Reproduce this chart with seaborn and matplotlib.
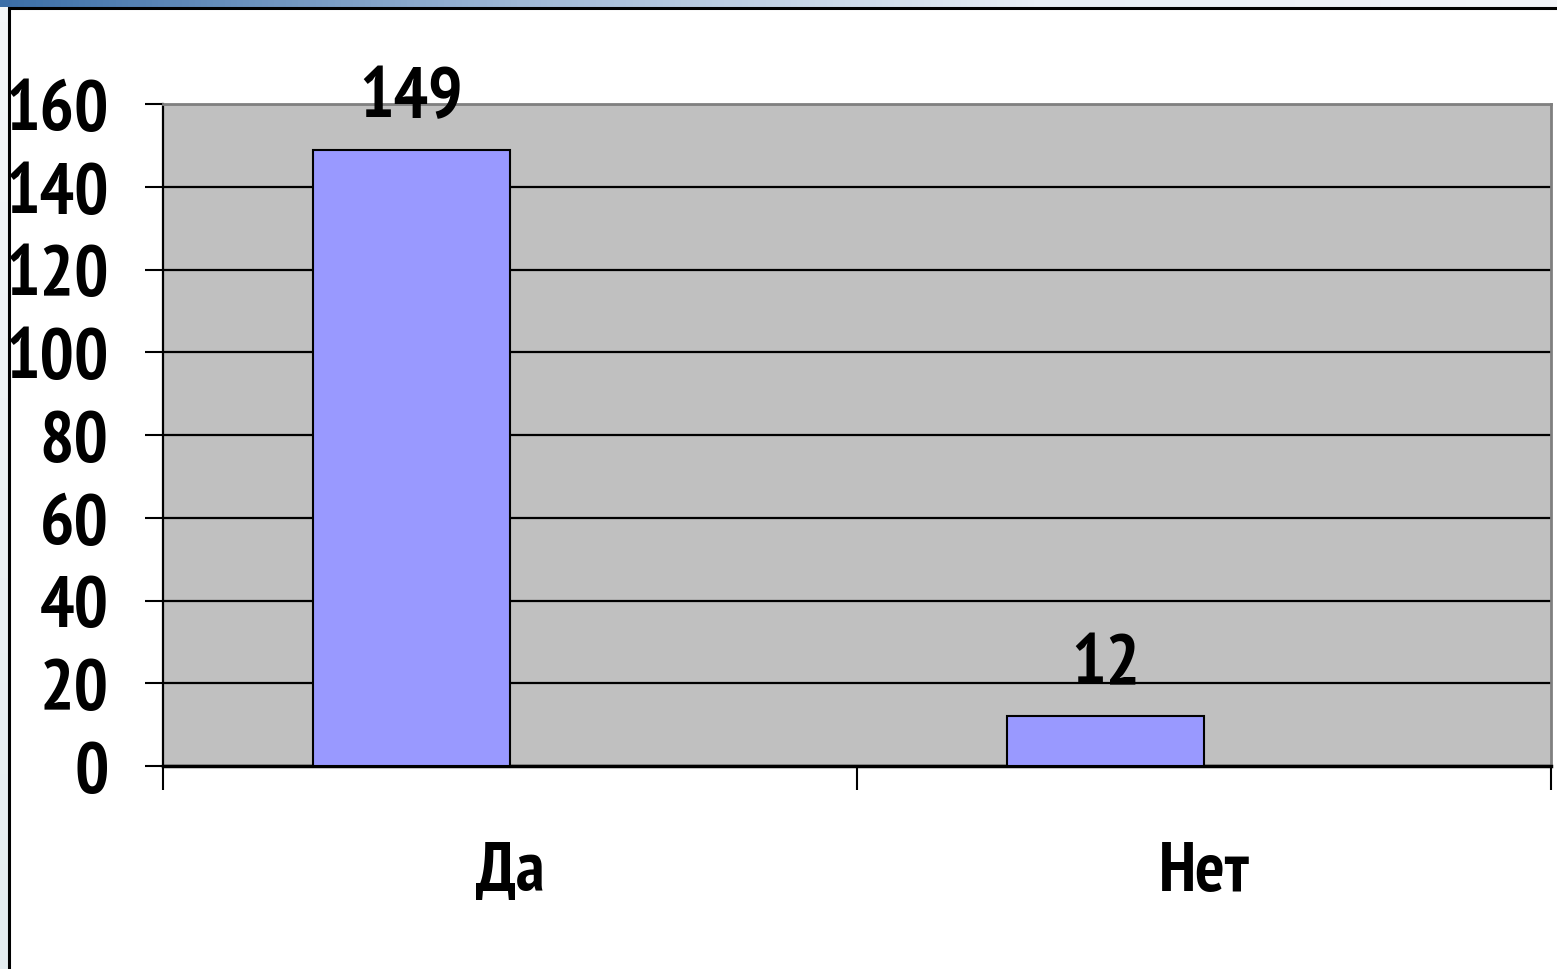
import numpy as np
import pandas as pd
import matplotlib
matplotlib.use("Agg")
import matplotlib.pyplot as plt
import seaborn as sns
from matplotlib.patches import Rectangle
from matplotlib.colors import LinearSegmentedColormap

categories = ["Да", "Нет"]
values = [149, 12]
yticks = [0, 20, 40, 60, 80, 100, 120, 140, 160]

sns.set_style("white")
plt.rcParams["font.family"] = ["PT Sans Narrow", "Roboto Condensed", "Liberation Sans", "DejaVu Sans"]
plt.rcParams["text.color"] = "black"
plt.rcParams["xtick.color"] = "black"
plt.rcParams["ytick.color"] = "black"

fig = plt.figure(figsize=(15.57, 9.70), dpi=100)
fig.patch.set_facecolor("white")

# top gradient strip
gax = fig.add_axes([0, 1 - 8 / 970, 1, 8 / 970])
grad = np.linspace(0, 1, 256).reshape(1, -1)
cm = LinearSegmentedColormap.from_list("g", ["#3c6fa8", "#9fb8d6", "#e8eef5", "#f2f4f8"])
gax.imshow(grad, aspect="auto", cmap=cm)
gax.axis("off")

# left light strip
lax = fig.add_axes([0, 0, 8 / 1557, 1 - 8 / 970])
lax.imshow(np.linspace(0, 1, 64).reshape(-1, 1), aspect="auto",
           cmap=LinearSegmentedColormap.from_list("l", ["#f3f6f8", "#e4ecef"]))
lax.axis("off")

# outer frame
fig.patches.append(Rectangle((9 / 1557, -0.01), 1.1, (970 - 9) / 970 + 0.01,
                             transform=fig.transFigure, fill=False,
                             edgecolor="black", linewidth=2.2, zorder=0))

ax = fig.add_axes([163 / 1557, (970 - 767) / 970, (1551 - 163) / 1557, 662 / 970])
df = pd.DataFrame({"cat": categories, "val": values, "series": ["s1", "s1"]})
sns.barplot(data=df, x="cat", y="val", hue="series", hue_order=["s1", "s2"],
            order=categories, width=0.568, dodge=True, ax=ax, saturation=1,
            palette={"s1": "#9999FF", "s2": "#993366"},
            edgecolor="black", linewidth=1.5, legend=False, zorder=3)

ax.set_facecolor("#C0C0C0")
ax.set_xlim(-0.5, 1.5)
ax.set_ylim(0, 160)
ax.set_yticks(yticks)
ax.set_yticklabels([str(t) for t in yticks], fontsize=52, fontweight="bold")
ax.yaxis.grid(True, color="black", linewidth=1.6, zorder=1)
ax.set_axisbelow(True)

ax.set_xticks([-0.5, 0.5, 1.5])
ax.set_xticklabels([])
ax.set_xticks([0, 1], minor=True)
ax.set_xticklabels(categories, minor=True, fontsize=50, fontweight="bold")
ax.tick_params(axis="x", which="major", length=17, width=1.5, color="black", direction="out", bottom=True)
ax.tick_params(axis="x", which="minor", length=0, pad=54)
ax.tick_params(axis="y", length=13, width=1.5, color="black", direction="out", left=True, pad=26)
ax.set_xlabel("")
ax.set_ylabel("")

for s in ["left", "bottom"]:
    ax.spines[s].set_color("black")
    ax.spines[s].set_linewidth(1.6)
ax.spines["bottom"].set_linewidth(2.5)
for s in ["top", "right"]:
    ax.spines[s].set_color("#808080")
    ax.spines[s].set_linewidth(2)

for c in ax.containers:
    labels = [f"{v:.0f}" if not np.isnan(v) else "" for v in c.datavalues]
    ax.bar_label(c, labels=labels, fontsize=52, fontweight="bold", padding=14, clip_on=False)

fig.savefig("out.png", dpi=100)
